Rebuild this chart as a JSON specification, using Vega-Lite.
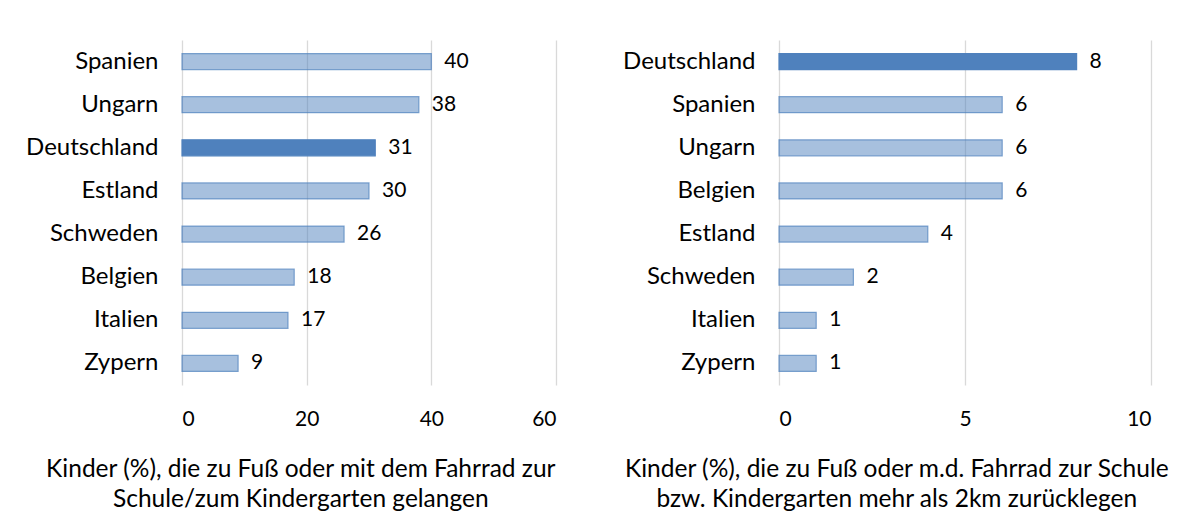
{
  "$schema": "https://vega.github.io/schema/vega-lite/v6.json",
  "padding": {"left": 25, "top": 40, "right": 5, "bottom": 0},
  "spacing": 61,
  "datasets": {
    "gesamt": [
      {"Land": "Spanien", "Wert": 40},
      {"Land": "Ungarn", "Wert": 38},
      {"Land": "Deutschland", "Wert": 31},
      {"Land": "Estland", "Wert": 30},
      {"Land": "Schweden", "Wert": 26},
      {"Land": "Belgien", "Wert": 18},
      {"Land": "Italien", "Wert": 17},
      {"Land": "Zypern", "Wert": 9}
    ],
    "weit": [
      {"Land": "Deutschland", "Wert": 8},
      {"Land": "Spanien", "Wert": 6},
      {"Land": "Ungarn", "Wert": 6},
      {"Land": "Belgien", "Wert": 6},
      {"Land": "Estland", "Wert": 4},
      {"Land": "Schweden", "Wert": 2},
      {"Land": "Italien", "Wert": 1},
      {"Land": "Zypern", "Wert": 1}
    ]
  },
  "config": {
    "font": "Lato",
    "view": {"stroke": null},
    "axis": {"domain": false, "ticks": false, "labelColor": "#000000", "labelFont": "Lato"},
    "axisY": {"labelFontSize": 24},
    "axisX": {"labelFontSize": 21},
    "title": {"color": "#000000", "fontSize": 24.5, "fontWeight": "normal", "font": "Lato", "lineHeight": 30}
  },
  "hconcat": [
    {
      "width": 374,
      "height": 345,
      "data": {"name": "gesamt"},
      "title": {"text": ["Kinder (%), die  zu Fuß oder mit dem Fahrrad zur", "Schule/zum Kindergarten gelangen"], "orient": "bottom", "anchor": "middle", "frame": "bounds", "offset": 29, "dx": 10},
      "encoding": {
        "y": {"field": "Land", "type": "nominal", "sort": ["Spanien", "Ungarn", "Deutschland", "Estland", "Schweden", "Belgien", "Italien", "Zypern"],
              "scale": {"paddingInner": 0.63, "paddingOuter": 0.315},
              "axis": {"title": null, "grid": false, "labelPadding": 24}},
        "x": {"field": "Wert", "type": "quantitative", "scale": {"domain": [0, 60], "nice": false},
              "axis": {"title": null, "values": [0, 20, 40, 60], "grid": true, "gridColor": "#D9D9D9", "gridWidth": 1.3, "labelPadding": 23}}
      },
      "layer": [
        {"mark": {"type": "bar", "strokeWidth": 1.2, "fill": "#4F81BD", "stroke": "#4F81BD"},
         "encoding": {
           "fillOpacity": {"condition": {"test": "datum.Land === 'Deutschland'", "value": 1}, "value": 0.5},
           "strokeOpacity": {"condition": {"test": "datum.Land === 'Deutschland'", "value": 1}, "value": 0.7}
         }},
        {"mark": {"type": "text", "align": "left", "baseline": "middle", "dx": 13, "fontSize": 21, "color": "#000000"},
         "encoding": {"text": {"field": "Wert", "type": "quantitative"}}}
      ]
    },
    {
      "width": 372,
      "height": 345,
      "data": {"name": "weit"},
      "title": {"text": ["Kinder (%), die zu Fuß oder m.d. Fahrrad zur  Schule", "bzw. Kindergarten mehr als  2km zurücklegen"], "orient": "bottom", "anchor": "middle", "frame": "bounds", "offset": 29, "dx": 10},
      "encoding": {
        "y": {"field": "Land", "type": "nominal", "sort": ["Deutschland", "Spanien", "Ungarn", "Belgien", "Estland", "Schweden", "Italien", "Zypern"],
              "scale": {"paddingInner": 0.63, "paddingOuter": 0.315},
              "axis": {"title": null, "grid": false, "labelPadding": 24}},
        "x": {"field": "Wert", "type": "quantitative", "scale": {"domain": [0, 10], "nice": false},
              "axis": {"title": null, "values": [0, 5, 10], "grid": true, "gridColor": "#D9D9D9", "gridWidth": 1.3, "labelPadding": 23}}
      },
      "layer": [
        {"mark": {"type": "bar", "strokeWidth": 1.2, "fill": "#4F81BD", "stroke": "#4F81BD"},
         "encoding": {
           "fillOpacity": {"condition": {"test": "datum.Land === 'Deutschland'", "value": 1}, "value": 0.5},
           "strokeOpacity": {"condition": {"test": "datum.Land === 'Deutschland'", "value": 1}, "value": 0.7}
         }},
        {"mark": {"type": "text", "align": "left", "baseline": "middle", "dx": 13, "fontSize": 21, "color": "#000000"},
         "encoding": {"text": {"field": "Wert", "type": "quantitative"}}}
      ]
    }
  ]
}
